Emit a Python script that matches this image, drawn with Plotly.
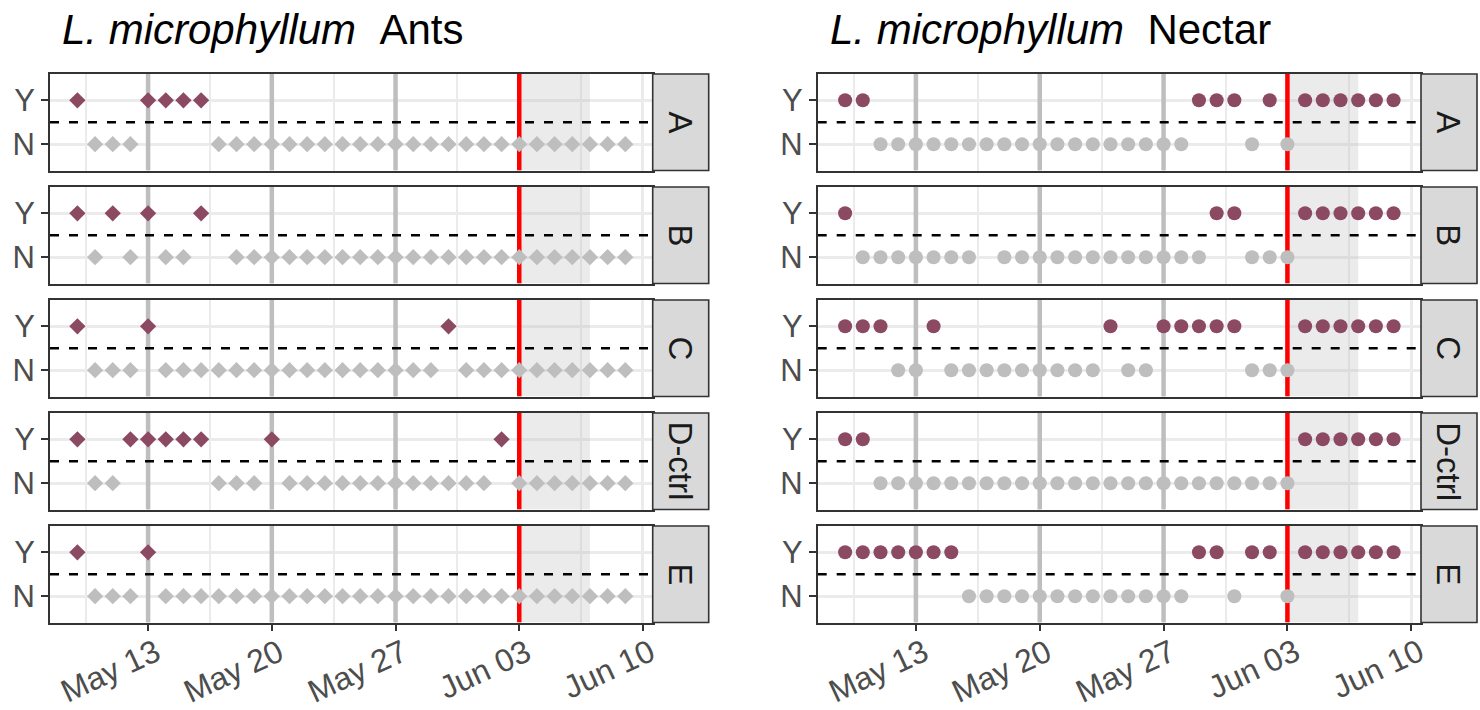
import plotly.graph_objects as go
import pandas as pd

# survey days (one column per day, May 9 .. Jun 9); Y = present, N = absent, . = no record
first_day = "2019-05-09"
n_days = 32
sites = ["A", "B", "C", "D-ctrl", "E"]

ants_A = "YNNNYYY YNNNNNN NNNNNNN NNNNNNN NNNN"
ants_B = "YNYNYNN Y.NNNNN NNNNNNN NNNNNNN NNNN"
ants_C = "YNNNYNN NNNNNNN NNNNNNN YNNNNNN NNNN"
ants_D = "YNNYYYY YNNNYNN NNNNNNN NNNYNNN NNNN"
ants_E = "YNNNYNN NNNNNNN NNNNNNN NNNNNNN NNNN"

nectar_A = "YYNNNNN NNNNNNN NNNNNNY YYNYNYY YYYY"
nectar_B = "YNNNNNN N.NNNNN NNNNNNN YYNNNYY YYYY"
nectar_C = "YYYNNYN NNNNNNN NYNNYYY YYNNNYY YYYY"
nectar_D = "YYNNNNN NNNNNNN NNNNNNN NNNNNYY YYYY"
nectar_E = "YYYYYYY NNNNNNN NNNNNNY YNYYNYY YYYY"

week_lines = ["2019-05-13", "2019-05-20", "2019-05-27"]
treatment_day = "2019-06-03"
shade_end = "2019-06-07"
x_ticks = ["2019-05-13", "2019-05-20", "2019-05-27", "2019-06-03", "2019-06-10"]

panels = [
    ("Ants", "diamond", 12.5, [ants_A, ants_B, ants_C, ants_D, ants_E]),
    ("Nectar", "circle", 14, [nectar_A, nectar_B, nectar_C, nectar_D, nectar_E]),
]

W, H = 1480, 710
purple = "#8C4A62"
grey = "#BEBEBE"
font = "Liberation Sans, Arial, sans-serif"

days = pd.date_range(first_day, periods=n_days, freq="D")
pad = (days[-1] - days[0]) * 0.05
x_range = [days[0] - pad, days[-1] + pad]
y_range = [0.4, 2.6]
ticks = pd.to_datetime(x_ticks)
minor_ticks = [t - pd.Timedelta(hours=84) for t in ticks]

panel_x = [(50, 652.7), (817.7, 1421)]
strip_w = 56
row_top = [74, 187, 300, 413, 526]
row_h = 96.5

fig = go.Figure()
layout = dict(width=W, height=H, margin=dict(l=0, r=0, t=0, b=0),
              plot_bgcolor="white", paper_bgcolor="white", showlegend=False,
              font=dict(family=font), shapes=[], annotations=[])

for p, (label, symbol, msize, series) in enumerate(panels):
    x0, x1 = panel_x[p]
    layout["annotations"].append(dict(
        text="<i>L. microphyllum</i>\u00a0\u00a0" + label, xref="paper", yref="paper",
        x=(x0 + 10) / W, y=1 - 30 / H, xanchor="left", yanchor="middle",
        showarrow=False, font=dict(size=42, color="black")))
    for r, site in enumerate(sites):
        k = p * 5 + r + 1
        sfx = "" if k == 1 else str(k)
        xa, ya = "x" + sfx, "y" + sfx
        top = row_top[r]
        obs = series[r].replace(" ", "")
        yes = [d for d, v in zip(days, obs) if v == "Y"]
        no = [d for d, v in zip(days, obs) if v == "N"]

        # shaded post-treatment window
        fig.add_trace(go.Scatter(
            x=[treatment_day, shade_end, shade_end, treatment_day, treatment_day],
            y=[y_range[0], y_range[0], y_range[1], y_range[1], y_range[0]],
            mode="lines", fill="toself", fillcolor="rgba(190,190,190,0.3)",
            line=dict(width=0), xaxis=xa, yaxis=ya, hoverinfo="skip"))
        # weekly reference lines
        vx, vy = [], []
        for d in week_lines:
            vx += [d, d, None]
            vy += [y_range[0], y_range[1], None]
        fig.add_trace(go.Scatter(x=vx, y=vy, mode="lines", line=dict(color=grey, width=4.5),
                                 xaxis=xa, yaxis=ya, hoverinfo="skip"))
        fig.add_trace(go.Scatter(x=[treatment_day, treatment_day], y=y_range, mode="lines",
                                 line=dict(color="#FF0000", width=4.5), xaxis=xa, yaxis=ya,
                                 hoverinfo="skip"))
        fig.add_trace(go.Scatter(x=x_range, y=[1.5, 1.5], mode="lines",
                                 line=dict(color="black", width=2.6, dash="9px,10px"),
                                 xaxis=xa, yaxis=ya, hoverinfo="skip"))
        fig.add_trace(go.Scatter(x=no, y=[1] * len(no), mode="markers", xaxis=xa, yaxis=ya,
                                 marker=dict(symbol=symbol, size=msize, color=grey)))
        fig.add_trace(go.Scatter(x=yes, y=[2] * len(yes), mode="markers", xaxis=xa, yaxis=ya,
                                 marker=dict(symbol=symbol, size=msize, color=purple)))

        bottom = r == len(sites) - 1
        layout["xaxis" + sfx] = dict(
            domain=[x0 / W, x1 / W], anchor=ya, type="date", range=x_range,
            tickvals=ticks, showticklabels=False,
            ticks="outside" if bottom else "", ticklen=7, tickwidth=2, tickcolor="#333333",
            showgrid=True, gridcolor="#EBEBEB", gridwidth=2.5,
            minor=dict(tickvals=minor_ticks, showgrid=True, gridcolor="#EBEBEB", gridwidth=1.5),
            showline=True, mirror=True, linecolor="#333333", linewidth=1.6, zeroline=False)
        layout["yaxis" + sfx] = dict(
            domain=[1 - (top + row_h) / H, 1 - top / H], anchor=xa, range=y_range,
            tickvals=[1, 2], ticktext=["N", "Y"], ticks="outside", ticklen=7, tickwidth=2,
            tickcolor="#333333", tickfont=dict(size=31, color="#4D4D4D"),
            showgrid=True, gridcolor="#EBEBEB", gridwidth=2.5,
            showline=True, mirror=True, linecolor="#333333", linewidth=1.6, zeroline=False)
        if bottom:
            for t in ticks:
                layout["annotations"].append(dict(
                    text=t.strftime("%b %d"), xref=xa, yref="paper", x=t, y=1 - 630 / H,
                    xshift=20, xanchor="right", yanchor="top", textangle=-25, showarrow=False,
                    font=dict(size=32, color="#4D4D4D")))
        # facet strip
        layout["shapes"].append(dict(type="rect", xref="paper", yref="paper",
                                     x0=x1 / W, x1=(x1 + strip_w) / W,
                                     y0=1 - (top + row_h) / H, y1=1 - top / H,
                                     fillcolor="#D9D9D9", line=dict(color="#333333", width=1.6)))
        layout["annotations"].append(dict(
            text=site, xref="paper", yref="paper", x=(x1 + strip_w / 2) / W,
            y=1 - (top + row_h / 2) / H, textangle=90, showarrow=False,
            xanchor="center", yanchor="middle", font=dict(size=33, color="#1A1A1A")))

fig.update_layout(**layout)
fig.write_html("out.html", config={"displayModeBar": False},
               post_script="document.body.style.margin='0';")
